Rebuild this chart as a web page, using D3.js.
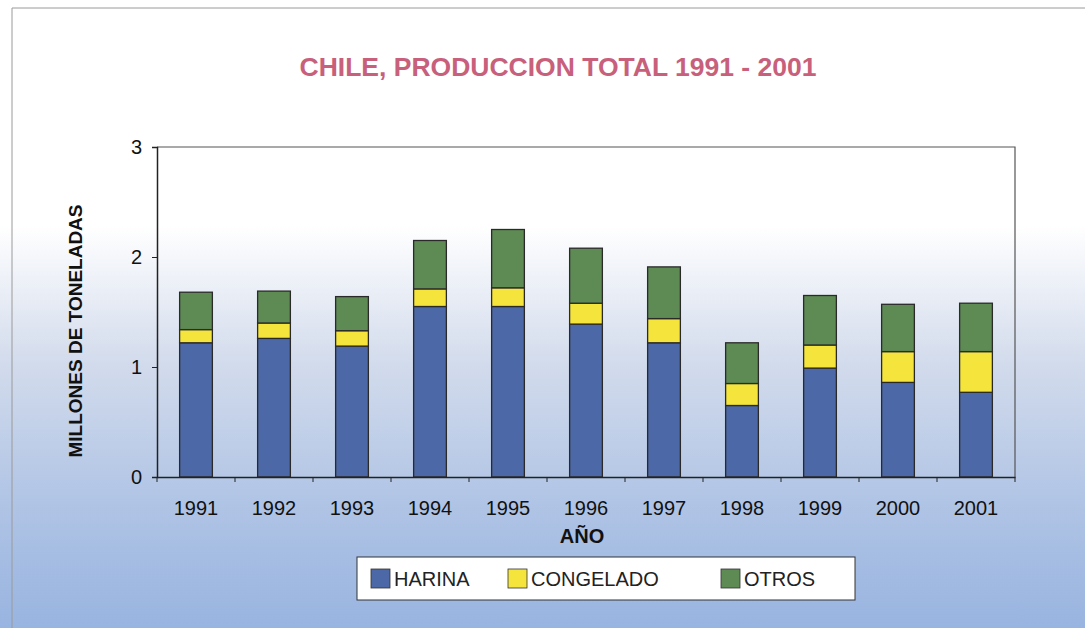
<!DOCTYPE html>
<html>
<head>
<meta charset="utf-8">
<script src="https://cdn.jsdelivr.net/npm/d3@7"></script>
<style>
  body { margin: 0; background: #fff; }
  svg { display: block; }
</style>
</head>
<body>
<div id="chart"></div>
<script>
// datos (millones de toneladas)
const years = ["1991","1992","1993","1994","1995","1996","1997","1998","1999","2000","2001"];
const harina    = [1.22, 1.26, 1.19, 1.55, 1.55, 1.39, 1.22, 0.65, 0.99, 0.86, 0.77];
const congelado = [0.12, 0.14, 0.14, 0.16, 0.17, 0.19, 0.22, 0.20, 0.21, 0.28, 0.37];
const otros     = [0.34, 0.29, 0.31, 0.44, 0.53, 0.50, 0.47, 0.37, 0.45, 0.43, 0.44];
const seriesNames = ["HARINA", "CONGELADO", "OTROS"];
const yTicks = [0, 1, 2, 3];

const W = 1085, H = 628;
const colors = { HARINA: "#4c68a6", CONGELADO: "#f4e43c", OTROS: "#5e8a54" };
const font = "Liberation Sans, Arial, sans-serif";

const svg = d3.select("#chart").append("svg")
  .attr("width", W).attr("height", H);

// fondo: blanco arriba, azul abajo
const defs = svg.append("defs");
const grad = defs.append("linearGradient")
  .attr("id", "bg").attr("x1", 0).attr("y1", 0).attr("x2", 0).attr("y2", 1);
grad.append("stop").attr("offset", "0%").attr("stop-color", "#ffffff");
grad.append("stop").attr("offset", "36%").attr("stop-color", "#ffffff");
grad.append("stop").attr("offset", "58%").attr("stop-color", "#d2dbec");
grad.append("stop").attr("offset", "80%").attr("stop-color", "#b0c4e5");
grad.append("stop").attr("offset", "100%").attr("stop-color", "#98b4e0");

svg.append("rect").attr("width", W).attr("height", H).attr("fill", "url(#bg)");

// borde exterior
svg.append("path")
  .attr("d", "M12,628 V8 H1085")
  .attr("fill", "none").attr("stroke", "#9a9a9a").attr("stroke-width", 1);

const m = { left: 157, right: 1015, top: 147, bottom: 477 };

const x = d3.scaleBand().domain(years).range([m.left, m.right]).paddingInner(0.58).paddingOuter(0.29);
const y = d3.scaleLinear().domain([0, 3]).range([m.bottom, m.top]);

const table = years.map((yr, i) => ({ year: yr, HARINA: harina[i], CONGELADO: congelado[i], OTROS: otros[i] }));
const stacked = d3.stack().keys(seriesNames)(table);

// marco del área de trazado (arriba y derecha)
svg.append("path")
  .attr("d", `M${m.left},${m.top} H${m.right} V${m.bottom}`)
  .attr("fill", "none").attr("stroke", "#555").attr("stroke-width", 1.2);

// barras
svg.append("g").selectAll("g")
  .data(stacked).join("g")
  .attr("fill", d => colors[d.key])
  .selectAll("rect")
  .data(d => d).join("rect")
  .attr("x", d => x(d.data.year))
  .attr("y", d => y(d[1]))
  .attr("width", x.bandwidth())
  .attr("height", d => y(d[0]) - y(d[1]))
  .attr("stroke", "#2a2a2a").attr("stroke-width", 1.3);

// eje Y
const yAxis = svg.append("g")
  .attr("transform", `translate(${m.left},0)`)
  .call(d3.axisLeft(y).tickValues(yTicks).tickFormat(d3.format("d")).tickSize(5).tickPadding(10));
yAxis.select(".domain").attr("stroke", "#222").attr("stroke-width", 1.5);
yAxis.selectAll(".tick line").attr("stroke", "#222");
yAxis.selectAll("text")
  .attr("font-family", font)
  .attr("font-size", 20).attr("fill", "#111");

// eje X
const xAxis = svg.append("g")
  .attr("transform", `translate(0,${m.bottom})`)
  .call(d3.axisBottom(x).tickSize(0).tickPadding(24));
xAxis.select(".domain").attr("stroke", "#222").attr("stroke-width", 1.5);
xAxis.selectAll("text")
  .attr("font-family", font)
  .attr("font-size", 20).attr("fill", "#111");
// marcas entre categorías
const step = x.step();
xAxis.selectAll(".sep")
  .data(d3.range(years.length + 1)).join("line")
  .attr("class", "sep")
  .attr("x1", i => m.left + i * step).attr("x2", i => m.left + i * step)
  .attr("y1", 0).attr("y2", 5)
  .attr("stroke", "#222");

// título
svg.append("text")
  .attr("x", 558).attr("y", 76)
  .attr("text-anchor", "middle")
  .attr("font-family", font)
  .attr("font-weight", "bold").attr("font-size", 26.5)
  .attr("fill", "#c8607c")
  .text("CHILE, PRODUCCION TOTAL 1991 - 2001");

// etiquetas de ejes
svg.append("text")
  .attr("x", 582).attr("y", 543)
  .attr("text-anchor", "middle")
  .attr("font-family", font)
  .attr("font-weight", "bold").attr("font-size", 20)
  .attr("fill", "#111")
  .text("AÑO");

svg.append("text")
  .attr("transform", "translate(82,331) rotate(-90)")
  .attr("text-anchor", "middle")
  .attr("font-family", font)
  .attr("font-weight", "bold").attr("font-size", 19)
  .attr("fill", "#111")
  .text("MILLONES DE TONELADAS");

// leyenda
const legend = svg.append("g");
legend.append("rect")
  .attr("x", 357).attr("y", 557).attr("width", 498).attr("height", 43)
  .attr("fill", "#fff").attr("stroke", "#333").attr("stroke-width", 1);
const legendX = [371, 508, 721];
const item = legend.selectAll(".item")
  .data(seriesNames).join("g")
  .attr("class", "item")
  .attr("transform", (d, i) => `translate(${legendX[i]},569)`);
item.append("rect")
  .attr("width", 19).attr("height", 19)
  .attr("fill", d => colors[d])
  .attr("stroke", "#333").attr("stroke-width", 0.8);
item.append("text")
  .attr("x", 23).attr("y", 17)
  .attr("font-family", font)
  .attr("font-size", 20).attr("fill", "#222")
  .text(d => d);
</script>
</body>
</html>
